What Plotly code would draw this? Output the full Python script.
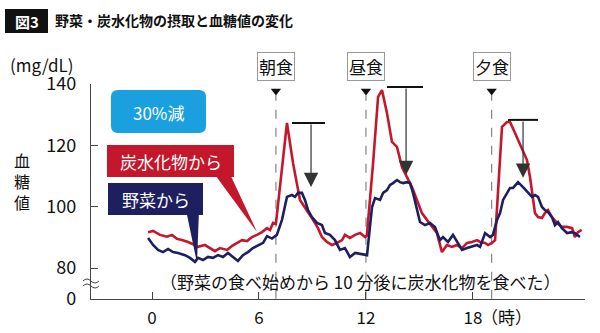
import plotly.graph_objects as go

# ---------------- data ----------------
hours_carb = [-0.22, 0.06, 0.45, 0.84, 1.12, 1.40, 1.68, 2.02, 2.41, 2.58, 2.97, 3.25, 3.53, 3.81,
              4.21, 4.49, 4.77, 5.05, 5.33, 5.61, 5.89, 6.17, 6.45, 6.62, 6.79, 6.95, 7.57, 7.91,
              8.30, 8.69, 9.03, 9.31, 9.53, 9.81, 10.10, 10.38, 10.66, 10.82, 11.10, 11.39, 11.67,
              11.95, 12.05, 12.40, 12.68, 12.90, 13.18, 13.46, 13.74, 14.02, 14.30, 14.58, 14.86,
              15.14, 15.42, 15.70, 15.98, 16.26, 16.54, 16.83, 17.10, 17.39, 17.67, 17.95, 18.23,
              18.40, 18.68, 18.85, 19.07, 19.24, 19.63, 19.91, 20.08, 20.36, 20.53, 20.75, 21.03,
              21.20, 21.48, 21.65, 21.87, 22.04, 22.21, 22.43, 22.71, 22.99, 23.28, 23.56, 23.72,
              23.89, 24.10]
glucose_carb = [91.7, 92.1, 90.8, 90.2, 90.8, 89.5, 89.1, 88.5, 87.5, 86.9, 87.5, 86.5, 85.5, 86.5,
                85.9, 87.2, 88.2, 89.1, 88.8, 90.1, 90.8, 91.7, 93.0, 92.4, 94.7, 94.4, 127.3, 114.2,
                102.2, 98.9, 95.7, 93.0, 90.1, 88.5, 87.5, 88.2, 89.1, 90.8, 89.8, 90.8, 91.4,
                90.1, 90.6, 114.2, 135.8, 138.0, 130.5, 121.1, 119.5, 112.9, 109.7, 106.4, 102.2,
                97.9, 95.7, 93.4, 91.4, 85.2, 87.5, 86.9, 87.5, 86.5, 88.2, 88.5, 89.1,
                88.5, 88.2, 87.5, 88.2, 89.1, 126.0, 127.6, 127.6, 124.0, 121.7, 118.5, 115.2,
                109.7, 97.9, 96.6, 96.3, 97.9, 98.9, 96.6, 94.7, 93.4, 93.4, 93.0, 90.1,
                91.7, 92.4]

hours_veg = [-0.22, 0.06, 0.34, 0.62, 0.90, 1.18, 1.46, 1.85, 2.13, 2.41, 2.58, 2.86, 3.14, 3.42,
             3.70, 3.98, 4.26, 4.54, 4.82, 5.10, 5.38, 5.66, 5.95, 6.23, 6.45, 6.73, 7.00, 7.29,
             7.57, 7.85, 8.02, 8.19, 8.41, 8.58, 8.75, 8.97, 9.25, 9.53, 9.70, 9.98, 10.26, 10.54,
             10.82, 11.10, 11.39, 11.67, 11.95, 12.06, 12.34, 12.51, 12.79, 12.96, 13.18, 13.35,
             13.52, 13.74, 13.91, 14.08, 14.30, 14.47, 14.64, 14.86, 15.03, 15.31, 15.59, 15.87,
             16.15, 16.32, 16.60, 16.88, 17.16, 17.39, 17.67, 17.95, 18.23, 18.40, 18.68, 18.96,
             19.12, 19.35, 19.52, 19.69, 19.91, 20.08, 20.25, 20.53, 20.81, 21.09, 21.31, 21.48,
             21.65, 21.87, 22.04, 22.21, 22.43, 22.60, 22.77, 22.99, 23.28, 23.56, 23.72, 24.00]
glucose_veg = [89.8, 87.5, 85.9, 85.2, 86.2, 85.2, 84.9, 84.2, 83.3, 82.0, 83.3, 82.6, 83.6, 83.3,
               84.2, 83.6, 84.9, 83.6, 82.3, 84.2, 85.2, 86.5, 87.5, 88.2, 90.4, 89.6, 90.8, 95.7,
               103.2, 103.8, 103.2, 104.5, 104.5, 102.2, 98.9, 96.6, 94.7, 94.0, 91.4, 90.8, 89.1, 85.9,
               86.5, 83.6, 84.9, 84.6, 84.2, 84.2, 99.9, 102.8, 102.2, 104.5, 105.4, 107.1,
               107.7, 108.7, 108.0, 107.7, 108.0, 107.7, 104.5, 98.9, 95.0, 94.0, 94.7, 93.4,
               89.1, 90.1, 88.5, 90.8, 88.2, 85.9, 86.5, 86.9, 87.5, 86.9, 91.4, 90.1,
               90.8, 95.7, 97.9, 102.2, 104.5, 106.1, 106.1, 108.0, 106.4, 104.8, 103.2, 103.8,
               103.2, 99.9, 98.9, 98.3, 96.6, 94.0, 95.0, 93.0, 91.4, 91.7, 91.4, 90.1]

meal_names = ["朝食", "昼食", "夕食"]
meal_hours = [6.95, 12.0, 19.05]

# peak-reduction brackets (hour of arrow, top value, arrow tip value, bar start/end hour)
arrow_hours = [8.92, 14.25, 20.81]
arrow_top = [127.3, 139.0, 128.3]
arrow_tip = [106.4, 110.3, 109.4]
bar_start = [7.85, 13.18, 19.97]
bar_end = [9.70, 15.20, 21.65]

x_ticks = [0, 6, 12, 18]
x_tick_labels = ["0", "6", "12", "18"]
y_ticks = [70, 80, 100, 120, 140]
y_tick_labels = ["0", "80", "100", "120", "140"]

RED = "#c4172c"
NAVY = "#1d1f5f"
BLUE = "#1a9fdf"
FONT = "Noto Sans CJK JP"

# ---------------- layout helpers (pixel -> paper) ----------------
L, R, T, B = 91, 585, 84, 299
def px(x):
    return (x - L) / (R - L)
def py(y):
    return (B - y) / (B - T)

def label(x, y, text, size=17, color="#111", xanchor="center", **kw):
    return dict(xref="paper", yref="paper", x=px(x), y=py(y), text=text, showarrow=False,
                xanchor=xanchor, yanchor="middle", font=dict(family=FONT, size=size, color=color), **kw)

fig = go.Figure()

fig.add_trace(go.Scatter(x=hours_carb, y=glucose_carb, mode="lines",
                         line=dict(color=RED, width=2.6), showlegend=False))
fig.add_trace(go.Scatter(x=hours_veg, y=glucose_veg, mode="lines",
                         line=dict(color=NAVY, width=2.6), showlegend=False))

# meal markers (triangles)
fig.add_trace(go.Scatter(x=meal_hours, y=[137.7] * len(meal_hours), mode="markers",
                         marker=dict(symbol="triangle-down", size=9, color="#111"),
                         cliponaxis=False, showlegend=False))

shapes = []
annotations = []

for h, name in zip(meal_hours, meal_names):
    shapes.append(dict(type="line", xref="x", yref="y", x0=h, x1=h, y0=70, y1=136.3,
                       line=dict(color="#7a7a7a", width=1.1, dash="dash"), layer="below"))
    annotations.append(dict(xref="x", yref="paper", x=h, y=py(66), text=name, showarrow=False,
                            xanchor="center", yanchor="middle",
                            font=dict(family=FONT, size=17, color="#111"),
                            bgcolor="white", bordercolor="#999", borderwidth=1, borderpad=1))

for xa, yt, yb, x0, x1 in zip(arrow_hours, arrow_top, arrow_tip, bar_start, bar_end):
    shapes.append(dict(type="line", xref="x", yref="y", x0=x0, x1=x1, y0=yt, y1=yt,
                       line=dict(color="#111", width=2)))
    annotations.append(dict(xref="x", yref="y", axref="x", ayref="y", x=xa, y=yb, ax=xa, ay=yt,
                            text="", showarrow=True, arrowhead=2, arrowsize=2.4, arrowwidth=1.2,
                            arrowcolor="#333"))

# rounded box "30%減"
def rounded(x0, y0, x1, y1, r):
    def p(x, y):
        return f"{px(x):.5f},{py(y):.5f}"
    return (f"M {p(x0 + r, y0)} L {p(x1 - r, y0)} Q {p(x1, y0)} {p(x1, y0 + r)} "
            f"L {p(x1, y1 - r)} Q {p(x1, y1)} {p(x1 - r, y1)} L {p(x0 + r, y1)} "
            f"Q {p(x0, y1)} {p(x0, y1 - r)} L {p(x0, y0 + r)} Q {p(x0, y0)} {p(x0 + r, y0)} Z")

shapes.append(dict(type="path", xref="paper", yref="paper", path=rounded(111, 90, 206, 133, 7),
                   fillcolor=BLUE, line=dict(width=0)))
annotations.append(label(158.5, 112, "30%減", color="white"))

# callout pointers
def tri(pts):
    return "M " + " L ".join(f"{px(a):.5f},{py(b):.5f}" for a, b in pts) + " Z"

shapes.append(dict(type="path", xref="paper", yref="paper",
                   path=tri([(213, 172), (229, 172), (257, 232)]), fillcolor=RED, line=dict(width=0)))
shapes.append(dict(type="path", xref="paper", yref="paper",
                   path=tri([(186, 210), (199, 210), (197, 263)]), fillcolor=NAVY, line=dict(width=0)))

shapes.append(dict(type="rect", xref="paper", yref="paper", x0=px(107), x1=px(234), y0=py(145), y1=py(177),
                   fillcolor=RED, line=dict(width=0)))
annotations.append(label(170.5, 161, "炭水化物から", color="white"))
shapes.append(dict(type="rect", xref="paper", yref="paper", x0=px(108), x1=px(203), y0=py(183), y1=py(215),
                   fillcolor=NAVY, line=dict(width=0)))
annotations.append(label(155.5, 199, "野菜から", color="white"))

# axis break mark
for yy in (281, 286):
    path = (f"M {px(83):.5f},{py(yy):.5f} Q {px(87):.5f},{py(yy - 4):.5f} {px(91):.5f},{py(yy):.5f} "
            f"Q {px(95):.5f},{py(yy + 4):.5f} {px(99):.5f},{py(yy):.5f}")
    shapes.append(dict(type="path", xref="paper", yref="paper", path=path,
                       line=dict(color="#444", width=1)))

# texts
annotations.append(label(360, 281, "（野菜の食べ始めから 10 分後に炭水化物を食べた）"))
annotations.append(label(506, 316, "（時）"))
annotations.append(label(42, 65, "(mg/dL)"))
annotations.append(label(22, 181, "血<br>糖<br>値", size=16))

# title
shapes.append(dict(type="rect", xref="paper", yref="paper", x0=px(5), x1=px(48), y0=py(9), y1=py(33),
                   fillcolor="#111", line=dict(width=0)))
annotations.append(label(26.5, 21, "<b>図3</b>", size=15, color="white"))
annotations.append(label(53, 20, "<b>野菜・炭水化物の摂取と血糖値の変化</b>", size=14, xanchor="left"))

fig.update_layout(
    width=600, height=333,
    margin=dict(l=L, r=600 - R, t=T, b=333 - B, autoexpand=False),
    paper_bgcolor="white", plot_bgcolor="white",
    font=dict(family=FONT, size=17, color="#111"),
    shapes=shapes, annotations=annotations,
    xaxis=dict(range=[(L - 152) / 17.83, (R - 152) / 17.83], tickvals=x_ticks, ticktext=x_tick_labels,
               ticks="inside", ticklen=7, tickcolor="#444", showline=True, linecolor="#444",
               linewidth=1.2, showgrid=False, zeroline=False, ticklabelstandoff=3,
               tickfont=dict(size=17), automargin=False),
    yaxis=dict(range=[69.9, 140], tickvals=y_ticks, ticktext=y_tick_labels,
               ticks="inside", ticklen=7, tickcolor="#444", showline=True, linecolor="#444",
               linewidth=1.2, showgrid=False, zeroline=False, ticklabelstandoff=10,
               tickfont=dict(size=18), automargin=False),
)

fig.write_html("out.html")
